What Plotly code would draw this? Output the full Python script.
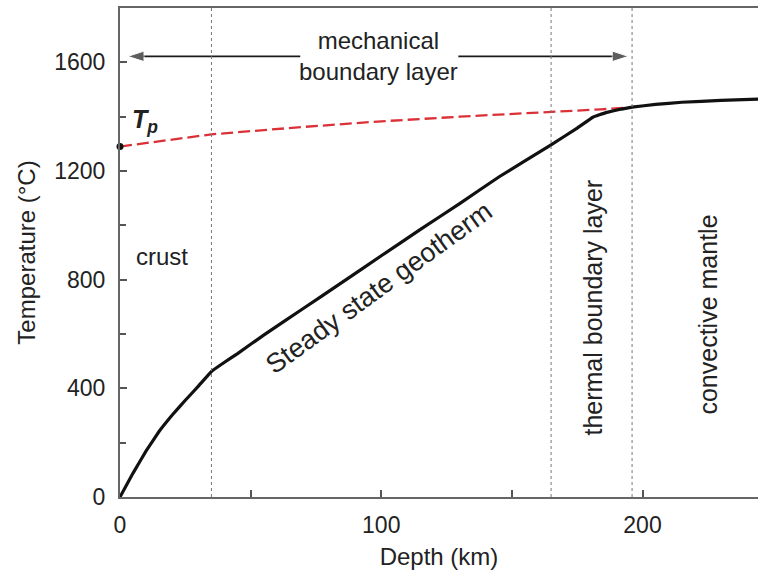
import plotly.graph_objects as go

# Steady-state geotherm (depth km, temperature C)
geo_depth = [0, 5, 10, 15, 20, 25, 30, 35, 40, 45, 55, 70, 85, 100, 115, 130, 145, 165, 175, 181, 186, 192, 196, 205, 215, 230, 245]
geo_temp = [0, 88, 170, 242, 302, 356, 408, 462, 496, 528, 596, 693, 790, 888, 985, 1080, 1178, 1296, 1358, 1398, 1415, 1428, 1435, 1445, 1453, 1460, 1465]

# Mantle adiabat (potential temperature extrapolation)
adi_depth = [0, 20, 35, 70, 100, 130, 165, 184, 196]
adi_temp = [1290, 1315, 1335, 1362, 1383, 1400, 1416, 1427, 1434]

boundaries = [35, 165, 196]
y_ticks = [0, 400, 800, 1200, 1600]
x_ticks = [0, 100, 200]

# mechanical boundary layer arrow: (tail, head) depths and level
mbl_left = [69, 3]
mbl_right = [129.5, 194.6]
mbl_temp = 1622

FONT = "Liberation Sans, Arial, sans-serif"
TXT = "#222222"

fig = go.Figure()

fig.add_trace(go.Scatter(x=adi_depth, y=adi_temp, mode="lines",
                         line=dict(color="#dc3038", width=2.3, dash="12px,5px"),
                         showlegend=False, hoverinfo="skip"))
fig.add_trace(go.Scatter(x=geo_depth, y=geo_temp, mode="lines",
                         line=dict(color="#111111", width=3.2, shape="spline", smoothing=0.15),
                         showlegend=False, hoverinfo="skip"))
fig.add_trace(go.Scatter(x=[adi_depth[0]], y=[adi_temp[0]], mode="markers",
                         marker=dict(color="#111111", size=7),
                         showlegend=False, hoverinfo="skip", cliponaxis=False))

for seg in (mbl_left, mbl_right):
    fig.add_trace(go.Scatter(x=seg, y=[mbl_temp, mbl_temp], mode="lines+markers",
                             line=dict(color="#1a1a1a", width=1.7),
                             marker=dict(symbol="arrow", size=[0, 17], angleref="previous",
                                         color="#1a1a1a"),
                             showlegend=False, hoverinfo="skip", cliponaxis=False))

for b in boundaries:
    fig.add_shape(type="line", x0=b, x1=b, y0=0, y1=1, xref="x", yref="paper",
                  line=dict(color="#777777", width=1, dash="dot"))

fig.add_annotation(x=99, y=1622, text="mechanical<br>boundary layer", showarrow=False,
                   font=dict(family=FONT, size=24, color=TXT), xref="x", yref="y")
fig.add_annotation(x=9.5, y=1385, text="<b><i>T</i></b><sub><b><i>p</i></b></sub>", showarrow=False,
                   font=dict(family=FONT, size=25, color=TXT), xref="x", yref="y")
fig.add_annotation(x=16, y=885, text="crust", showarrow=False,
                   font=dict(family=FONT, size=24, color=TXT), xref="x", yref="y")
fig.add_annotation(x=99, y=770, text="Steady state geotherm", showarrow=False, textangle=-36,
                   font=dict(family=FONT, size=27, color=TXT), xref="x", yref="y")
fig.add_annotation(x=181, y=697, text="thermal boundary layer", showarrow=False, textangle=-90,
                   font=dict(family=FONT, size=25, color=TXT), xref="x", yref="y")
fig.add_annotation(x=225, y=671, text="convective mantle", showarrow=False, textangle=-90,
                   font=dict(family=FONT, size=25, color=TXT), xref="x", yref="y")

fig.update_xaxes(range=[0, 244.2], tickvals=x_ticks, ticks="inside", ticklen=7, tickwidth=1.5,
                 tickcolor="#555555", showline=True, linecolor="#666666", linewidth=2, mirror=True,
                 showgrid=False, zeroline=False, ticklabelstandoff=6,
                 minor=dict(dtick=50, ticks="inside", ticklen=7, tickcolor="#555555", tickwidth=1.5),
                 tickfont=dict(family=FONT, size=23, color=TXT),
                 title=dict(text="Depth (km)", font=dict(family=FONT, size=24, color=TXT), standoff=12))
fig.update_yaxes(range=[0, 1800], tickvals=y_ticks, ticks="inside", ticklen=7, tickwidth=1.5,
                 tickcolor="#555555", showline=True, linecolor="#666666", linewidth=2,
                 showgrid=False, zeroline=False, ticklabelstandoff=8,
                 minor=dict(dtick=200, ticks="inside", ticklen=6, tickcolor="#555555", tickwidth=1.5),
                 tickfont=dict(family=FONT, size=23, color=TXT),
                 title=dict(text="Temperature (°C)", font=dict(family=FONT, size=24, color=TXT), standoff=12))

fig.update_layout(width=758, height=576, margin=dict(l=120, r=0, t=8, b=79),
                  plot_bgcolor="white", paper_bgcolor="white", showlegend=False)

fig.write_html("out.html")
